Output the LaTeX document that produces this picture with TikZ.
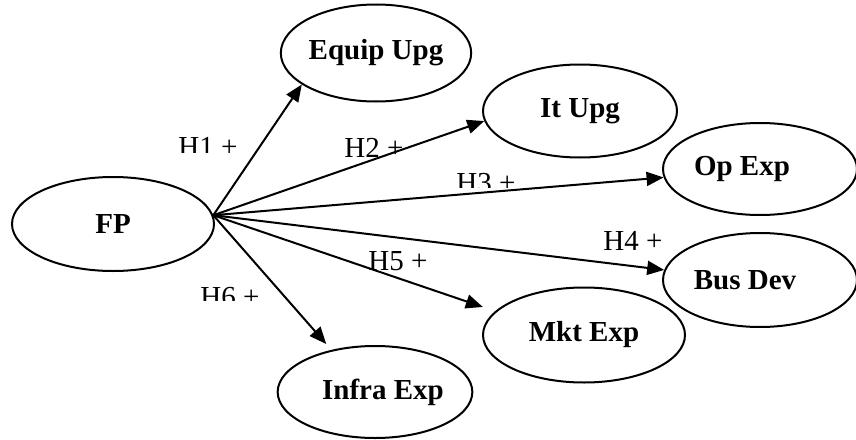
\documentclass[tikz,border=0pt]{standalone}
\usepackage{fontspec}
\setmainfont{Liberation Serif}
\usetikzlibrary{shapes.geometric,arrows.meta}

\tikzset{
  construct/.style={ellipse, draw, line width=1pt, inner sep=0pt, font=\fontsize{14.5}{17}\selectfont\bfseries},
  hyp/.style={inner sep=0pt, anchor=base, font=\fontsize{14.5}{17}\selectfont},
  link/.style={-{Triangle[length=8.5pt,width=7pt]}, line width=1pt}
}

\begin{document}
\begin{tikzpicture}[x=0.5pt,y=-0.5pt]
    \useasboundingbox (0,0) rectangle (856,439);

    % Define nodes
    \node[construct, minimum width=101pt, minimum height=47pt]		(fp)		at (113,224)	{FP};
    \node[construct, minimum width=94pt, minimum height=48.5pt]		(equip)		at (376,53)	{Equip Upg};
    \node[construct, minimum width=97pt, minimum height=46.5pt]		(itupg)		at (580,111)	{It Upg};
    \node[construct, minimum width=97pt, minimum height=46pt]		(opexp)		at (760,169)	{Op Exp\kern18pt};
    \node[construct, minimum width=97pt, minimum height=47pt]		(busdev)	at (760,280)	{Bus Dev\kern15pt};
    \node[construct, minimum width=101pt, minimum height=47.5pt]	(mktexp)	at (584,335)	{Mkt Exp};
    \node[construct, minimum width=95pt, minimum height=46pt]		(infra)		at (375,392)	{\kern8pt Infra Exp};

    % Connect nodes
    \draw[link] (fp.5) -- (equip.203.7);
    \draw[link] (fp.5) -- (itupg.186.5);
    \draw[link] (fp.5) -- (opexp.185.3);
    \draw[link] (fp.5) -- (busdev.174.2);
    \draw[link, shorten >=6.5pt] (fp.5) -- (mktexp.165.6);
    \draw[link, shorten >=3.9pt] (fp.5) -- (infra.136.2);

    % add hypothesis labels
    \begin{scope}
      \clip (170,120) rectangle (250,152);
      \node[hyp]	(h1)	at (208,156)	{H1 +};
    \end{scope}
    \node[hyp]	(h2)	at (374,157)	{H2 +};
    \begin{scope}
      \clip (440,160) rectangle (530,187);
      \node[hyp]	(h3)	at (486,192)	{H3 +};
    \end{scope}
    \node[hyp]	(h4)	at (633,250)	{H4 +};
    \node[hyp]	(h5)	at (398,270)	{H5 +};
    \begin{scope}
      \clip (190,275) rectangle (270,300);
      \node[hyp]	(h6)	at (230,306)	{H6 +};
    \end{scope}
\end{tikzpicture}
\end{document}
